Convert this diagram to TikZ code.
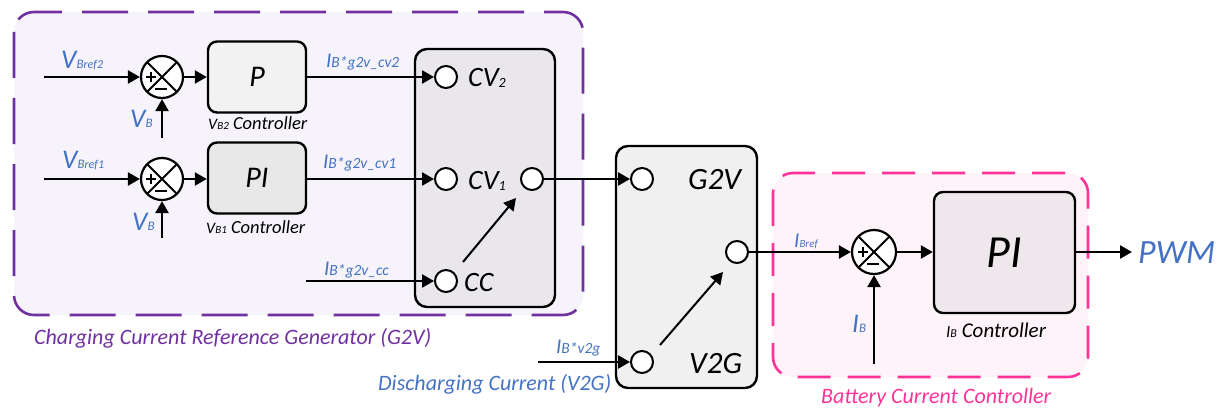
\documentclass[tikz,border=0pt]{standalone}
\usepackage{fontspec}
\setmainfont{Carlito}
\usetikzlibrary{arrows.meta}

\definecolor{sigblue}{HTML}{4472C4}
\definecolor{grppurple}{HTML}{7030A0}
\definecolor{grppink}{HTML}{FF3399}
\definecolor{purplefill}{HTML}{F6F4FA}
\definecolor{pinkfill}{HTML}{FFF3FA}
\definecolor{selfill}{HTML}{E9E7EC}
\definecolor{ibfill}{HTML}{EEE8EC}

% signal name with a small subscript
\newcommand{\sig}[4]{{\fontsize{#1}{#1}\selectfont #2}{\fontsize{#3}{#3}\selectfont #4}}
\newcommand{\subsub}{\fontsize{12}{12}\selectfont}

\tikzset{
  block/.style={draw, line width=2.4pt, rounded corners=9pt, font=\itshape\fontsize{30}{30}\selectfont,
    minimum width=98pt, minimum height=71pt, inner sep=0pt},
  selbox/.style={draw, line width=2.4pt, rounded corners=12pt, inner sep=0pt},
  port/.style={circle, draw, fill=white, line width=2pt, minimum size=22pt, inner sep=0pt},
  sumnode/.style={circle, draw, fill=white, line width=2.2pt, minimum size=42pt, inner sep=0pt,
    path picture={
      \draw[line width=2pt] (path picture bounding box.north west) -- (path picture bounding box.south east)
        (path picture bounding box.south west) -- (path picture bounding box.north east);
      \draw[line width=2.6pt] ([xshift=-16pt]path picture bounding box.center) -- ++(10pt,0pt)
        ([xshift=-11pt,yshift=5pt]path picture bounding box.center) -- ++(0pt,-10pt)
        ([xshift=-7pt,yshift=-12pt]path picture bounding box.center) -- ++(12pt,0pt);
    }},
  lbl/.style={anchor=base west, inner sep=0pt, text=sigblue, font=\itshape},
  txt/.style={anchor=base west, inner sep=0pt, font=\itshape},
  grp/.style={line width=2.6pt, rounded corners=20pt}
}

\begin{document}
\begin{tikzpicture}[x=1pt, y=-1pt, line width=2.4pt, >={Triangle[length=12pt,width=13pt]}]
  \useasboundingbox (0,0) rectangle (1217,409);

  % Groups
  \draw[grp, grppurple, fill=purplefill, dash pattern=on 46pt off 20pt] (14,12) rectangle (583,315);
  \draw[grp, grppink, fill=pinkfill, dash pattern=on 33pt off 17pt] (773,173) rectangle (1088,377);
  \node[txt, text=grppurple, font=\itshape\fontsize{22}{22}\selectfont] (g2vname) at (33,344) {Charging Current Reference Generator (G2V)};
  \node[txt, text=grppink, font=\itshape\fontsize{22}{22}\selectfont] (batname) at (820,403) {Battery Current Controller};
  \node[lbl, font=\itshape\fontsize{22}{22}\selectfont] (v2gname) at (377,390) {Discharging Current (V2G)};

  % Voltage loops
  \node[sumnode] (s2) at (162,77) {};
  \node[sumnode] (s1) at (162,179) {};
  \node[block, fill=black!5] (pctrl) at (257,77) {P};
  \node[block, fill=black!9] (pictrl) at (257,178) {PI};
  \coordinate (vref2) at (44,77);
  \coordinate (vref1) at (44,179);
  \coordinate (vb2) at (162,138);
  \coordinate (vb1) at (162,238);
  \draw[->] (vref2) -- (s2);
  \draw[->] (vref1) -- (s1);
  \draw[->] (vb2) -- (s2);
  \draw[->] (vb1) -- (s1);
  \draw[->] (s2) -- (pctrl);
  \draw[->] (s1) -- (pctrl.west |- s1);
  \node[lbl] (vref2lbl) at (60,69) {\sig{27}{V}{13}{B\subsub ref2}};
  \node[lbl] (vref1lbl) at (61,168) {\sig{27}{V}{13}{B\subsub ref1}};
  \node[lbl] (vb2lbl) at (129,128) {\sig{27}{V}{13}{B}};
  \node[lbl] (vb1lbl) at (131,230) {\sig{27}{V}{13}{B}};
  \node[txt] (pname) at (207,129) {\sig{16}{V}{11}{B2}{\fontsize{18.5}{18.5}\selectfont\ Controller}};
  \node[txt] (piname) at (205,233) {\sig{16}{V}{11}{B1}{\fontsize{18.5}{18.5}\selectfont\ Controller}};

  % Mode selector CV/CC
  \node[selbox, fill=selfill, minimum width=140pt, minimum height=258pt] (sel) at (485,178) {};
  \node[port] (cv2) at (446,77) {};
  \node[port] (cv1) at (446,179) {};
  \node[port] (cc) at (446,281) {};
  \node[port] (selout) at (532,179) {};
  \coordinate (ccin) at (306,281);
  \draw[->] (pctrl) -- (cv2);
  \draw[->] (pictrl.east |- cv1) -- (cv1);
  \draw[->] (ccin) -- (cc);
  \coordinate (lev1a) at (463,262);
  \coordinate (lev1b) at (516,198);
  \draw[->, line width=2pt] (lev1a) -- (lev1b);
  \node[txt] (cv2lbl) at (467,87) {\sig{28}{CV}{14}{\raisebox{-1pt}{2}}};
  \node[txt] (cv1lbl) at (467,189) {\sig{28}{CV}{14}{\raisebox{-1pt}{1}}};
  \node[txt, font=\itshape\fontsize{28}{28}\selectfont] (cclbl) at (463,291) {CC};
  \node[lbl] (icv2) at (325,68) {\sig{21}{I}{15.5}{B*g2v\_cv2}};
  \node[lbl] (icv1) at (322,168) {\sig{21}{I}{15.5}{B*g2v\_cv1}};
  \node[lbl] (icc) at (323,275) {\sig{21}{I}{15.5}{B*g2v\_cc}};

  % Mode selector G2V/V2G
  \node[selbox, fill=black!6, minimum width=141pt, minimum height=242pt] (mode) at (686.5,267) {};
  \node[port] (g2v) at (642,179) {};
  \node[port] (v2g) at (642,362) {};
  \node[port] (modeout) at (737,252) {};
  \coordinate (v2gin) at (538,362);
  \draw[->] (selout) -- (g2v);
  \draw[->] (v2gin) -- (v2g);
  \coordinate (lev2a) at (660,345);
  \coordinate (lev2b) at (723,272);
  \draw[->, line width=2pt] (lev2a) -- (lev2b);
  \node[txt, font=\itshape\fontsize{31}{31}\selectfont] (g2vlbl) at (687,189) {G2V};
  \node[txt, font=\itshape\fontsize{31}{31}\selectfont] (v2glbl) at (688,373) {V2G};
  \node[lbl] (iv2g) at (555,353) {\sig{21}{I}{15.5}{B*v2g}};

  % Battery current loop
  \node[sumnode, minimum size=44pt] (sb) at (874,252) {};
  \node[block, fill=ibfill, minimum width=141pt, minimum height=121pt, font=\itshape\fontsize{46}{46}\selectfont] (ibctrl) at (1004.5,252.5) {PI};
  \coordinate (ibin) at (874,364);
  \coordinate (pwmout) at (1132,252);
  \draw[->] (modeout) -- (sb);
  \draw[->] (ibin) -- (sb);
  \draw[->] (sb) -- (ibctrl.west |- sb);
  \draw[->] (ibctrl.east |- sb) -- (pwmout);
  \node[lbl] (ibref) at (793,247) {\sig{21}{I}{11}{Bref}};
  \node[lbl] (iblbl) at (851,332) {\sig{27}{I}{13}{B}};
  \node[txt] (ibname) at (945,337) {\sig{17}{I}{12}{B}{\fontsize{21}{21}\selectfont\ Controller}};
  \node[lbl, font=\itshape\fontsize{34}{34}\selectfont] (pwm) at (1137,263) {PWM};
\end{tikzpicture}
\end{document}
